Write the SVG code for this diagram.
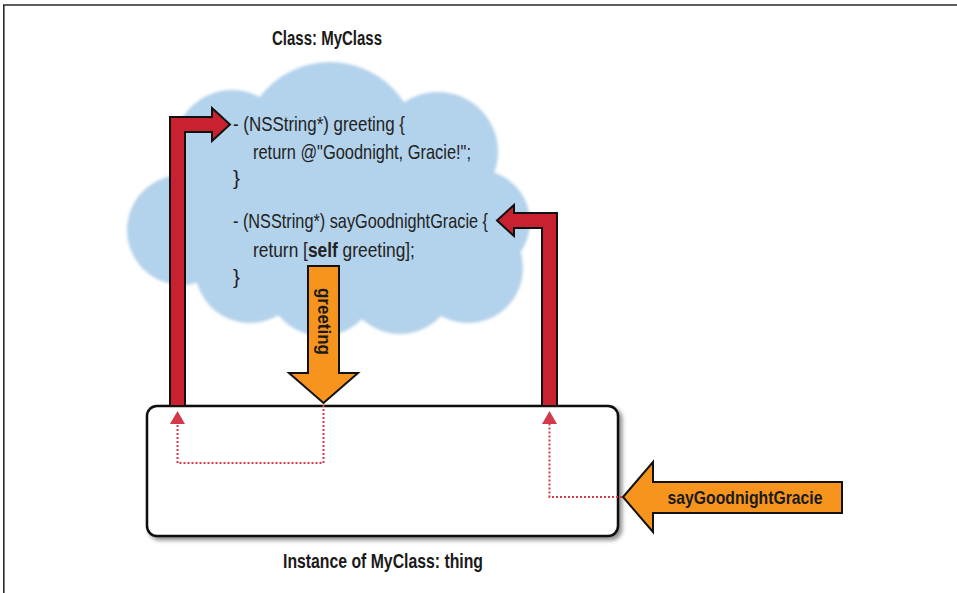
<svg xmlns="http://www.w3.org/2000/svg" width="957" height="593" viewBox="0 0 957 593">
  <defs>
    <filter id="soft" x="-10%" y="-10%" width="120%" height="120%">
      <feGaussianBlur stdDeviation="1.6"/>
    </filter>
    <filter id="shadow" x="-5%" y="-5%" width="112%" height="120%">
      <feDropShadow dx="3" dy="3" stdDeviation="2" flood-color="#000" flood-opacity="0.45"/>
    </filter>
  </defs>
  <style>
    .frame { stroke: #2a2a2a; stroke-width: 1.6; fill: none; }
    .label { font-family: "Liberation Sans", Arial, sans-serif; font-weight: bold; fill: #1a1a1a; }
    .code { font-family: "Liberation Sans", Arial, sans-serif; font-size: 21px; fill: #222; }
    .kw { font-weight: bold; }
    .cloud { fill: #b3d2eb; }
    .red { fill: #c8212f; stroke: #111; stroke-width: 2; stroke-linejoin: miter; }
    .orange { fill: #f7941d; stroke: #111; stroke-width: 2; stroke-linejoin: miter; }
    .dots { fill: none; stroke: #d23a4a; stroke-width: 2; stroke-dasharray: 2 2; }
    .dothead { fill: #d23a4a; }
    .box { fill: #fff; stroke: #111; stroke-width: 2.5; }
  </style>

  <rect width="957" height="593" fill="#fff"/>
  <!-- page frame: top and left rules only -->
  <path class="frame" d="M3.8,593 L3.8,5 L957,5"/>

  <!-- class cloud -->
  <g id="class-myclass">
    <g class="cloud" filter="url(#soft)">
      <circle cx="330" cy="150" r="88"/>
      <circle cx="232" cy="148" r="58"/>
      <circle cx="438" cy="152" r="60"/>
      <circle cx="182" cy="230" r="55"/>
      <circle cx="478" cy="222" r="52"/>
      <circle cx="250" cy="268" r="55"/>
      <circle cx="322" cy="280" r="56"/>
      <circle cx="400" cy="278" r="56"/>
      <circle cx="468" cy="268" r="55"/>
      <ellipse cx="330" cy="210" rx="170" ry="85"/>
    </g>
    <text class="label" x="327" y="45" font-size="20" text-anchor="middle" textLength="110" lengthAdjust="spacingAndGlyphs">Class: MyClass</text>
    <text class="code" x="233" y="131" textLength="172" lengthAdjust="spacingAndGlyphs">- (NSString*) greeting {</text>
    <text class="code" x="253" y="159" textLength="218" lengthAdjust="spacingAndGlyphs">return @"Goodnight, Gracie!";</text>
    <text class="code" x="233" y="185">}</text>
    <text class="code" x="233" y="228" textLength="255" lengthAdjust="spacingAndGlyphs">- (NSString*) sayGoodnightGracie {</text>
    <!-- condensed horizontally to the same width as the other code lines -->
    <text class="code" transform="translate(253,257) scale(0.826,1)">return [<tspan class="kw">self</tspan> greeting];</text>
    <text class="code" x="233" y="284">}</text>
  </g>

  <!-- instance box -->
  <g id="instance-thing">
    <rect class="box" x="147" y="406" width="471" height="130" rx="10" filter="url(#shadow)"/>
    <text class="label" x="383" y="568" font-size="21" text-anchor="middle" textLength="200" lengthAdjust="spacingAndGlyphs">Instance of MyClass: thing</text>
  </g>

  <g id="connectors">
    <!-- method lookup: instance up to greeting -->
    <path class="red" d="M170,406 L170,117 L212,117 L212,108 L230,124.5 L212,141 L212,132 L185,132 L185,406 Z"/>
    <!-- method lookup: instance up to sayGoodnightGracie -->
    <path class="red" d="M557,406 L557,213 L514,213 L514,205 L497,220.5 L514,236 L514,228 L542,228 L542,406 Z"/>

    <!-- message: greeting -->
    <path class="orange" d="M308,266 L339,266 L339,373 L358,373 L323.5,403 L289,373 L308,373 Z"/>
    <text class="label" x="0" y="0" font-size="18" text-anchor="middle" textLength="67" lengthAdjust="spacingAndGlyphs" transform="translate(318,321.5) rotate(90)">greeting</text>

    <!-- message: sayGoodnightGracie -->
    <path class="orange" d="M842,482 L842,513 L653,513 L653,532 L623,497 L653,462 L653,482 Z"/>
    <text class="label" x="745" y="504" font-size="19" text-anchor="middle" textLength="155" lengthAdjust="spacingAndGlyphs">sayGoodnightGracie</text>

    <!-- dotted routes inside the instance -->
    <path class="dots" d="M323.5,405 L323.5,463 L177.5,463 L177.5,423"/>
    <path class="dothead" d="M170,424 L185,424 L177.5,411 Z"/>
    <path class="dots" d="M622,497 L549.5,497 L549.5,423"/>
    <path class="dothead" d="M542,424 L557,424 L549.5,411 Z"/>
  </g>
</svg>
